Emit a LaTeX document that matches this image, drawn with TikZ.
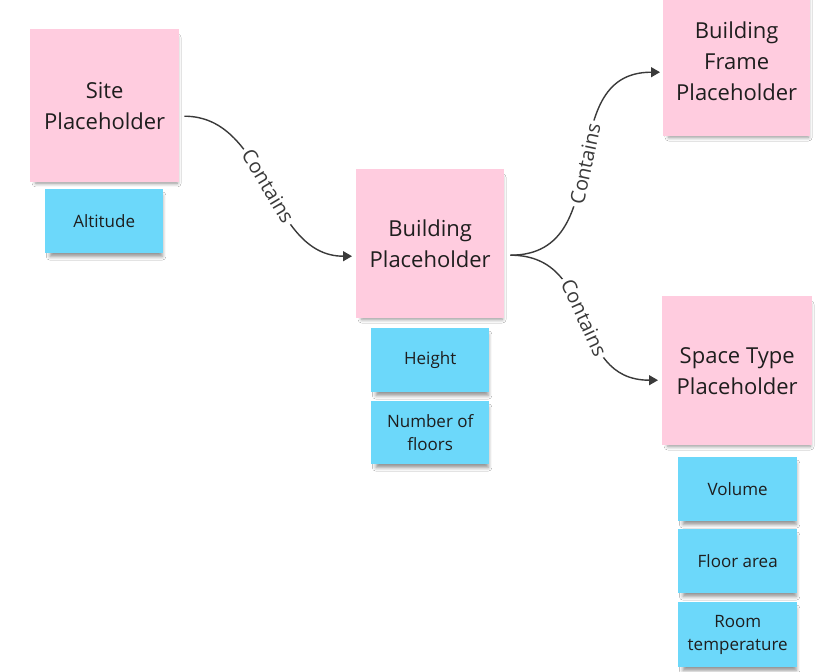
\documentclass[tikz,border=0pt]{standalone}
\usepackage{fontspec}
\setmainfont{Open Sans}
\usetikzlibrary{arrows.meta,shadows.blur,calc}
\definecolor{notepink}{HTML}{FFCCDF}
\definecolor{noteblue}{HTML}{6CD8FA}
\definecolor{inkdark}{HTML}{1E1E1E}
\definecolor{linedark}{HTML}{3A3A3A}
\tikzset{
  note/.style={anchor=north west, inner sep=0pt, align=center, text=inkdark,
    blur shadow={shadow xshift=2pt, shadow yshift=-5pt, shadow scale=0.95, shadow blur radius=4pt, shadow opacity=45}},
  bignote/.style={note, fill=notepink, font=\fontsize{22}{31}\selectfont},
  smallnote/.style={note, fill=noteblue, font=\fontsize{17}{23}\selectfont,
    minimum width=118pt, minimum height=64pt},
  link/.style={draw=linedark, line width=1.4pt, -{Triangle[length=9pt,width=10pt]}},
  linklabel/.style={midway, sloped, fill=white, inner sep=3pt, text=linedark,
    font=\fontsize{20}{22}\selectfont}
}
\begin{document}
\begin{tikzpicture}[x=1pt,y=-1pt]
\useasboundingbox (0,0) rectangle (822,672);
\clip (0,0) rectangle (822,672);
\fill[white] (0,0) rectangle (822,672);
% big notes
\node[bignote, minimum width=149pt, minimum height=153pt] (site) at (30,29) {Site\\Placeholder};
\node[bignote, minimum width=148pt, minimum height=149pt] (bldg) at (356,169) {Building\\Placeholder};
\node[bignote, minimum width=147pt, minimum height=149pt] (frame) at (663,-13) {Building\\Frame\\Placeholder};
\node[bignote, minimum width=150pt, minimum height=149pt] (space) at (662,296) {Space Type\\Placeholder};
% small notes
\node[smallnote] (alt) at (45,189) {Altitude};
\node[smallnote] (height) at (371,328) {Height};
\node[smallnote, minimum height=63pt] (floors) at (371,401) {Number of\\floors};
\node[smallnote, minimum width=119pt] (volume) at (678,457) {Volume};
\node[smallnote, minimum width=119pt] (farea) at (678,529) {Floor area};
\node[smallnote, minimum width=119pt, minimum height=65pt] (rtemp) at (678,602) {Room\\temperature};
% connector ends
\coordinate (s1) at ($(site.east)+(5,10.5)$);
\coordinate (b0) at ($(bldg.west)+(-4,12.5)$);
\coordinate (b1) at ($(bldg.east)+(6,11.5)$);
\coordinate (f0) at ($(frame.west)+(-3,10.5)$);
\coordinate (p0) at ($(space.west)+(-4,9.5)$);
% connectors
\draw[link] (s1) .. controls +(84,0) and +(-84,0) .. node[linklabel] {Contains} (b0);
\draw[link] (b1) .. controls +(110,0) and +(-110,0) .. node[linklabel] {Contains} (f0);
\draw[link] (b1) .. controls +(90,0) and +(-90,0) .. node[linklabel] {Contains} (p0);
\end{tikzpicture}
\end{document}
